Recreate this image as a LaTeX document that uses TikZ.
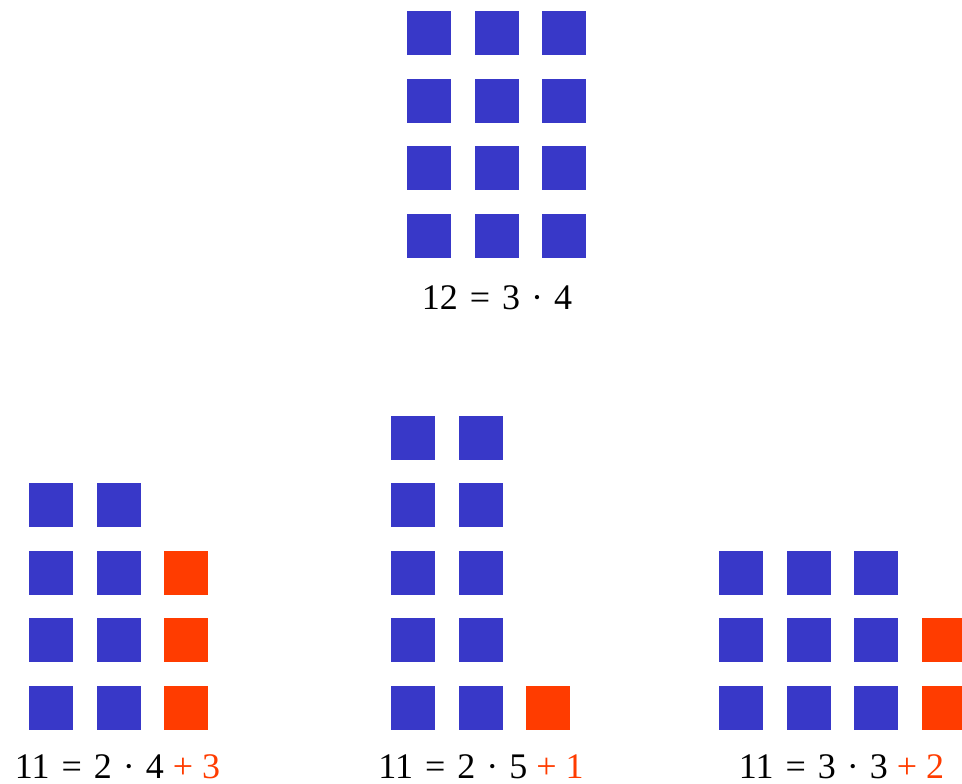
\documentclass[tikz,border=0pt]{standalone}
\usepackage{fontspec}
\setmainfont{Liberation Serif}
\usetikzlibrary{positioning}
\definecolor{tileblue}{HTML}{3838C8}
\definecolor{tilered}{HTML}{FF3C00}

\newcommand{\eqsign}{\hspace{3pt}=\hspace{3pt}}
\newcommand{\timesdot}{\hspace{2pt}·\hspace{2pt}}

\tikzset{
  tile/.style={fill=tileblue, minimum size=44pt, inner sep=0pt, outer sep=0pt},
  resttile/.style={tile, fill=tilered},
  eqn/.style={anchor=base, inner sep=0pt, font=\fontsize{36}{40}\selectfont}
}

\begin{document}
\begin{tikzpicture}[x=1pt, y=1pt]
\useasboundingbox (0,0) rectangle (962,784);

% 12 = 3 x 4
\foreach \c in {0,1,2}
  \foreach \r in {0,1,2,3}
    \node[tile] (top-\c-\r) at (429+67.5*\c, 548+67.5*\r) {};
\node[eqn] (eqtop) at (497,474) {12 \eqsign{} 3 \timesdot{} 4};

% 11 = 2 x 4 + 3
\foreach \c in {0,1}
  \foreach \r in {0,1,2,3}
    \node[tile] (left-\c-\r) at (51+67.5*\c, 76+67.5*\r) {};
\foreach \r in {0,1,2}
  \node[resttile] (left-rest-\r) at (186, 76+67.5*\r) {};
\node[eqn] (eqleft) at (117.5,5) {11 \eqsign{} 2 \timesdot{} 4 \textcolor{tilered}{+ 3}};

% 11 = 2 x 5 + 1
\foreach \c in {0,1}
  \foreach \r in {0,1,2,3,4}
    \node[tile] (mid-\c-\r) at (413+67.5*\c, 76+67.5*\r) {};
\node[resttile] (mid-rest) at (548,76) {};
\node[eqn] (eqmid) at (481,5) {11 \eqsign{} 2 \timesdot{} 5 \textcolor{tilered}{+ 1}};

% 11 = 3 x 3 + 2
\foreach \c in {0,1,2}
  \foreach \r in {0,1,2}
    \node[tile] (right-\c-\r) at (741+67.5*\c, 76+67.5*\r) {};
\foreach \r in {0,1}
  \node[resttile] (right-rest-\r) at (943.5, 76+67.5*\r) {};
\node[eqn] (eqright) at (841.5,5) {11 \eqsign{} 3 \timesdot{} 3 \textcolor{tilered}{+ 2}};
\end{tikzpicture}
\end{document}
